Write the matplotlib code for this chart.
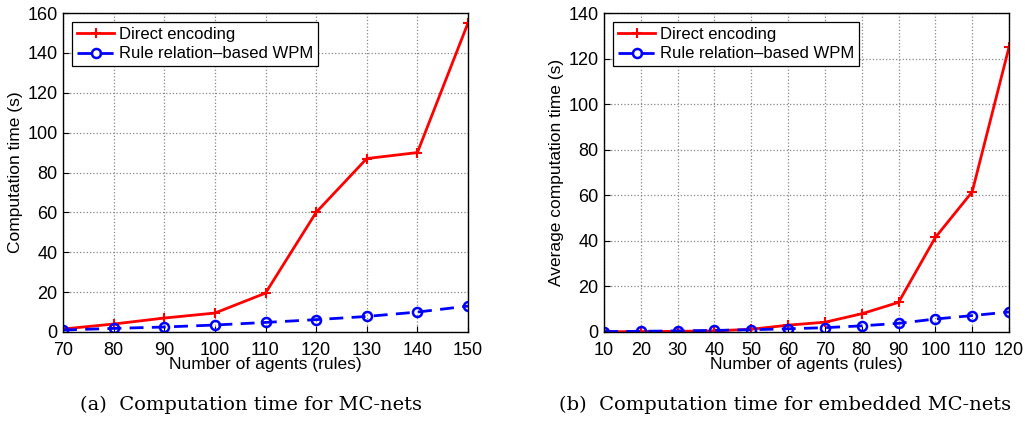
import numpy as np
import matplotlib.pyplot as plt

# panel (a): MC-nets
agents_a = [70, 80, 90, 100, 110, 120, 130, 140, 150]
direct_a = [1.5, 4, 7, 9.5, 19.5, 60, 87, 90, 155]
wpm_a = [1.0, 1.8, 2.5, 3.5, 4.8, 6.2, 7.8, 10, 13]

# panel (b): embedded MC-nets
agents_b = [10, 20, 30, 40, 50, 60, 70, 80, 90, 100, 110, 120]
direct_b = [0.1, 0.2, 0.3, 0.5, 1.2, 3, 4.3, 8, 13, 41.5, 61.5, 125]
wpm_b = [0.2, 0.3, 0.5, 0.7, 1.0, 1.4, 1.9, 2.7, 3.8, 5.7, 7.2, 8.8]

plt.rcParams['font.family'] = ['Liberation Sans', 'DejaVu Sans']

fig = plt.figure(figsize=(10.25, 4.21), dpi=100)
ax1 = fig.add_axes([63/1025, 1-332/421, 405/1025, 319/421])
ax2 = fig.add_axes([604/1025, 1-332/421, 405/1025, 319/421])

def draw(ax, x, d, w, ylim, ylabel, xt):
    ax.plot(x, d, '-', color='red', lw=2, marker='+', ms=7, mew=1.5,
            label='Direct encoding')
    ax.plot(x, w, '--', color='blue', lw=2, marker='o', ms=6.5, mew=1.8,
            mfc='none', dashes=(5, 3), label='Rule relation\u2013based WPM')
    ax.set_xlim(x[0], x[-1])
    ax.set_ylim(0, ylim)
    ax.set_xticks(xt)
    ax.set_yticks(np.arange(0, ylim + 1, 20))
    ax.grid(True, linestyle=':', color='#888888', lw=0.9)
    ax.tick_params(direction='in', labelsize=13, length=4)
    ax.tick_params(axis='x', pad=7)
    ax.tick_params(axis='y', pad=4)
    ax.set_xlabel('Number of agents (rules)', fontsize=12.5, labelpad=-1)
    ax.set_ylabel(ylabel, fontsize=12.5, labelpad=3)
    for s in ax.spines.values():
        s.set_linewidth(1.0)
    leg = ax.legend(loc='upper left', fontsize=12, fancybox=False,
                    edgecolor='black', framealpha=1, handlelength=2.2,
                    borderaxespad=0.55, borderpad=0.3, labelspacing=0.25,
                    handletextpad=0.3)
    leg.get_frame().set_linewidth(0.9)

draw(ax1, agents_a, direct_a, wpm_a, 160, 'Computation time (s)', agents_a)
draw(ax2, agents_b, direct_b, wpm_b, 140, 'Average computation time (s)', agents_b)

fig.text(251/1025, 1-405/421, '(a)  Computation time for MC-nets',
         family='DejaVu Serif', fontsize=14, ha='center', va='center')
fig.text(785/1025, 1-405/421, '(b)  Computation time for embedded MC-nets',
         family='DejaVu Serif', fontsize=14, ha='center', va='center')

fig.savefig('out.png', dpi=100)
